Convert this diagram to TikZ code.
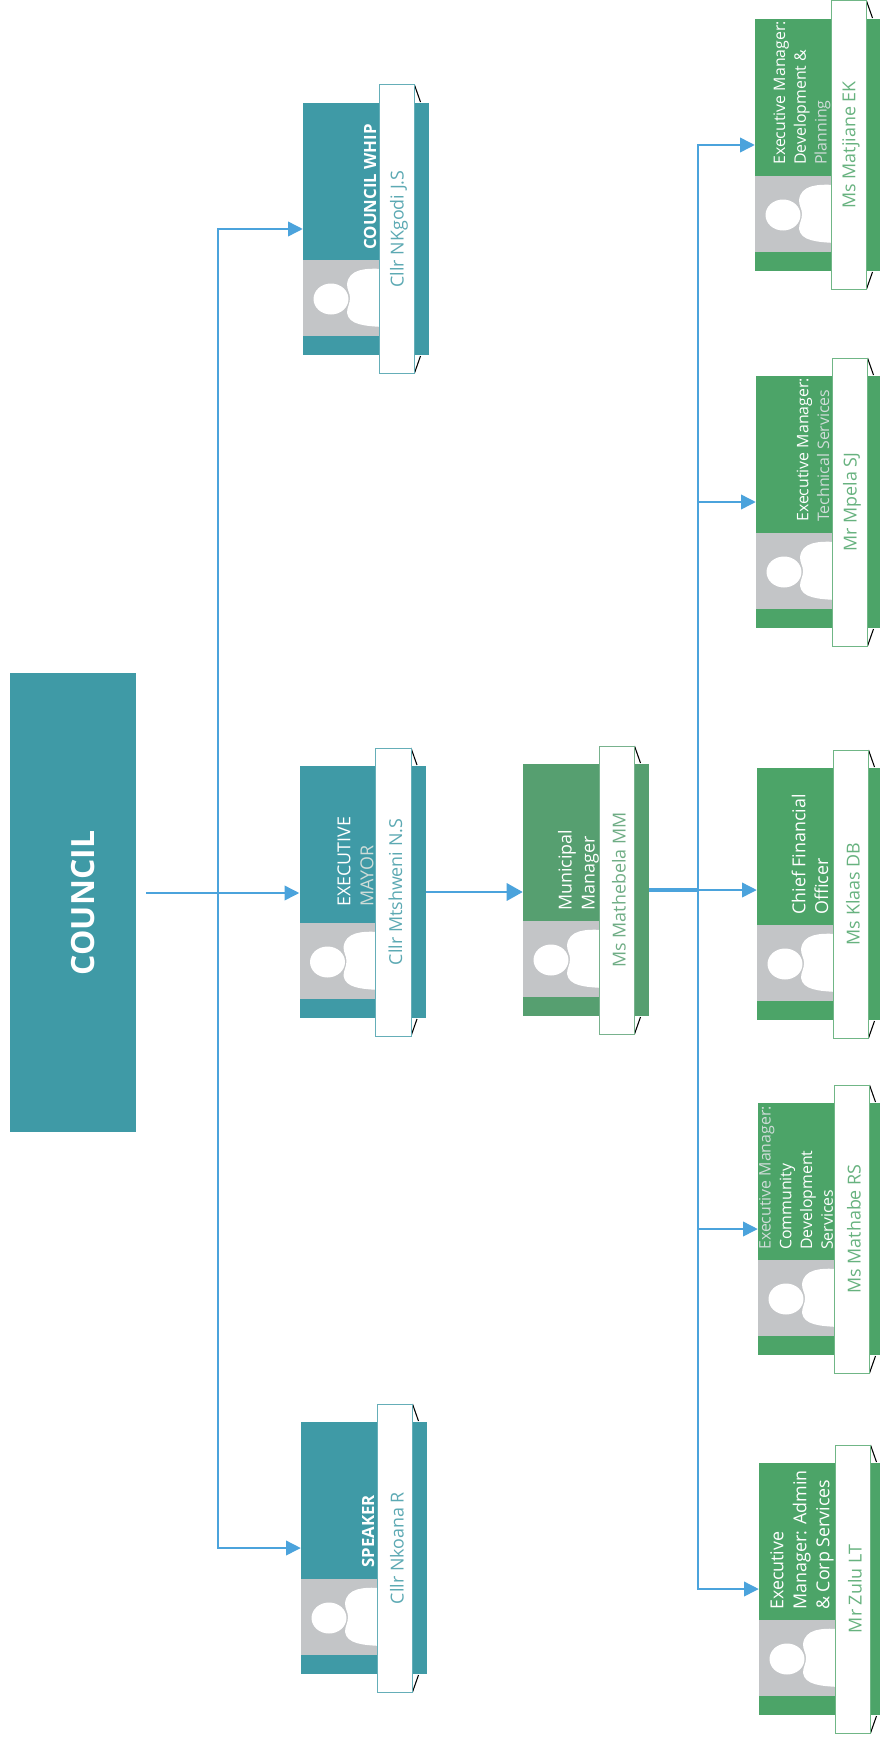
\documentclass[tikz,border=0pt]{standalone}
\usepackage{fontspec}
\setmainfont{Open Sans}
\usetikzlibrary{arrows.meta}
\definecolor{tealc}{HTML}{3F9AA6}
\definecolor{greenc}{HTML}{4CA468}
\definecolor{greend}{HTML}{569F70}
\definecolor{greyc}{HTML}{C3C5C7}
\definecolor{linkc}{HTML}{4BA3DC}
\definecolor{fadec}{HTML}{CFDCD8}
\tikzset{
  cardbody/.style={draw=none,inner sep=0pt,minimum width=94.5pt,minimum height=189pt},
  namebox/.style={rotate=90,fill=white,line width=.75pt,inner sep=0pt,minimum width=216pt,minimum height=26.5pt},
  nametext/.style={rotate=90,inner sep=0pt,font=\fontsize{13.4}{15}\selectfont},
  titlebig/.style={rotate=90,anchor=west,inner sep=0pt,text=white,align=left,font=\fontsize{13.4}{17.2}\selectfont},
  titlesmall/.style={rotate=90,anchor=west,inner sep=0pt,text=white,align=left,font=\fontsize{11.9}{15.6}\selectfont},
  titlebold/.style={rotate=90,anchor=west,inner sep=0pt,text=white,font=\fontsize{12.6}{15}\selectfont\bfseries},
  link/.style={draw=linkc,line width=1.1pt,-{Triangle[length=11pt,width=11pt]}},
  linkthick/.style={link,line width=1.7pt,-{Triangle[length=12pt,width=13pt]}},
}
\newcommand{\orgcard}[5]{%
  \begin{scope}[shift={(#2,#3)}]
    \node[cardbody,fill=#4] (#1) at (63,126) {};
    \fill[greyc] (0,157) rectangle (78,233);
    \fill[white] (28,196) ellipse [x radius=17.5,y radius=15.5];
    \fill[white] (80,166) .. controls (62,165) and (46,166) .. (44,181)
      .. controls (44,187) and (47,190) .. (47,195)
      .. controls (47,201) and (44,204) .. (44,210)
      .. controls (46,222) and (62,223) .. (80,224) -- cycle;
    \draw[black,line width=.8pt] (111.5,-18) -- (117.5,-1);
    \draw[black,line width=.8pt] (111.5,270) -- (117.5,253);
    \node[namebox,draw=#4!80] (#1-box) at (94,126) {};
    \node[nametext,text=#4!85] (#1-name) at (96,126) {#5};
  \end{scope}}
\begin{document}
\begin{tikzpicture}[x=.75pt,y=-.75pt]
\useasboundingbox (0,0) rectangle (880,1741);
\clip (0,0) rectangle (880,1741);
\fill[white] (0,0) rectangle (880,1741);

\node[cardbody,fill=tealc,minimum width=94.5pt,minimum height=344pt] (council) at (73,902.5) {};
\node[rotate=90,text=white,inner sep=0pt,font=\fontsize{24}{26}\selectfont\bfseries] (council-t) at (83,903) {COUNCIL};

\orgcard{whip}{303}{103}{tealc}{Cllr NKgodi J.S}
\orgcard{mayor}{299.5}{766}{tealc}{Cllr Mtshweni N.S}
\orgcard{speaker}{301}{1422}{tealc}{Cllr Nkoana R}
\orgcard{mm}{523}{764}{greend}{Ms Mathebela MM}
\orgcard{matjiane}{755}{19}{greenc}{Ms Matjiane EK}
\orgcard{mpela}{756}{376}{greenc}{Mr Mpela SJ}
\orgcard{klaas}{757}{768}{greenc}{Ms Klaas DB}
\orgcard{mathabe}{758}{1103}{greenc}{Ms Mathabe RS}
\orgcard{zulu}{759}{1463}{greenc}{Mr Zulu LT}

\node[titlebold] (whip-t) at (370,250) {COUNCIL WHIP};
\node[titlebig] (mayor-t) at (355.5,907) {EXECUTIVE\\\textcolor{fadec}{MAYOR}};
\node[titlebold] (speaker-t) at (368,1568) {SPEAKER};
\node[titlebig] (mm-t) at (578.5,911) {Municipal\\Manager};
\node[titlesmall] (matjiane-t) at (802,165) {Executive Manager:\\Development \&\\\textcolor{fadec}{Planning}};
\node[titlesmall] (mpela-t) at (813,522) {Executive Manager:\\\textcolor{fadec}{Technical Services}};
\node[titlebig] (klaas-t) at (810,915) {Chief Financial\\Officer};
\node[titlesmall] (mathabe-t) at (796,1250) {\textcolor{fadec}{Executive Manager:}\\Community\\Development\\Services};
\node[titlebig] (zulu-t) at (802,1610) {Executive\\Manager: Admin\\\& Corp Services};

\coordinate (busa) at (218,893);
\coordinate (busb) at (698,890);
\coordinate (cstart) at (146,893);
\draw[link] (cstart) -- (mayor.west |- cstart);
\draw[link] (busa) |- (whip.west);
\draw[link] (busa) |- (speaker.west);
\draw[linkthick] (mayor.east) -- (mayor.east -| mm.west);
\draw[draw=linkc,line width=2.6pt] (mm.east) -- (busb);
\draw[link] (busb) -- (klaas.west |- busb);
\draw[link] (busb) |- (matjiane.west);
\draw[link] (busb) |- (mpela.west);
\draw[link] (busb) |- (mathabe.west);
\draw[link] (busb) |- (zulu.west);
\end{tikzpicture}
\end{document}
